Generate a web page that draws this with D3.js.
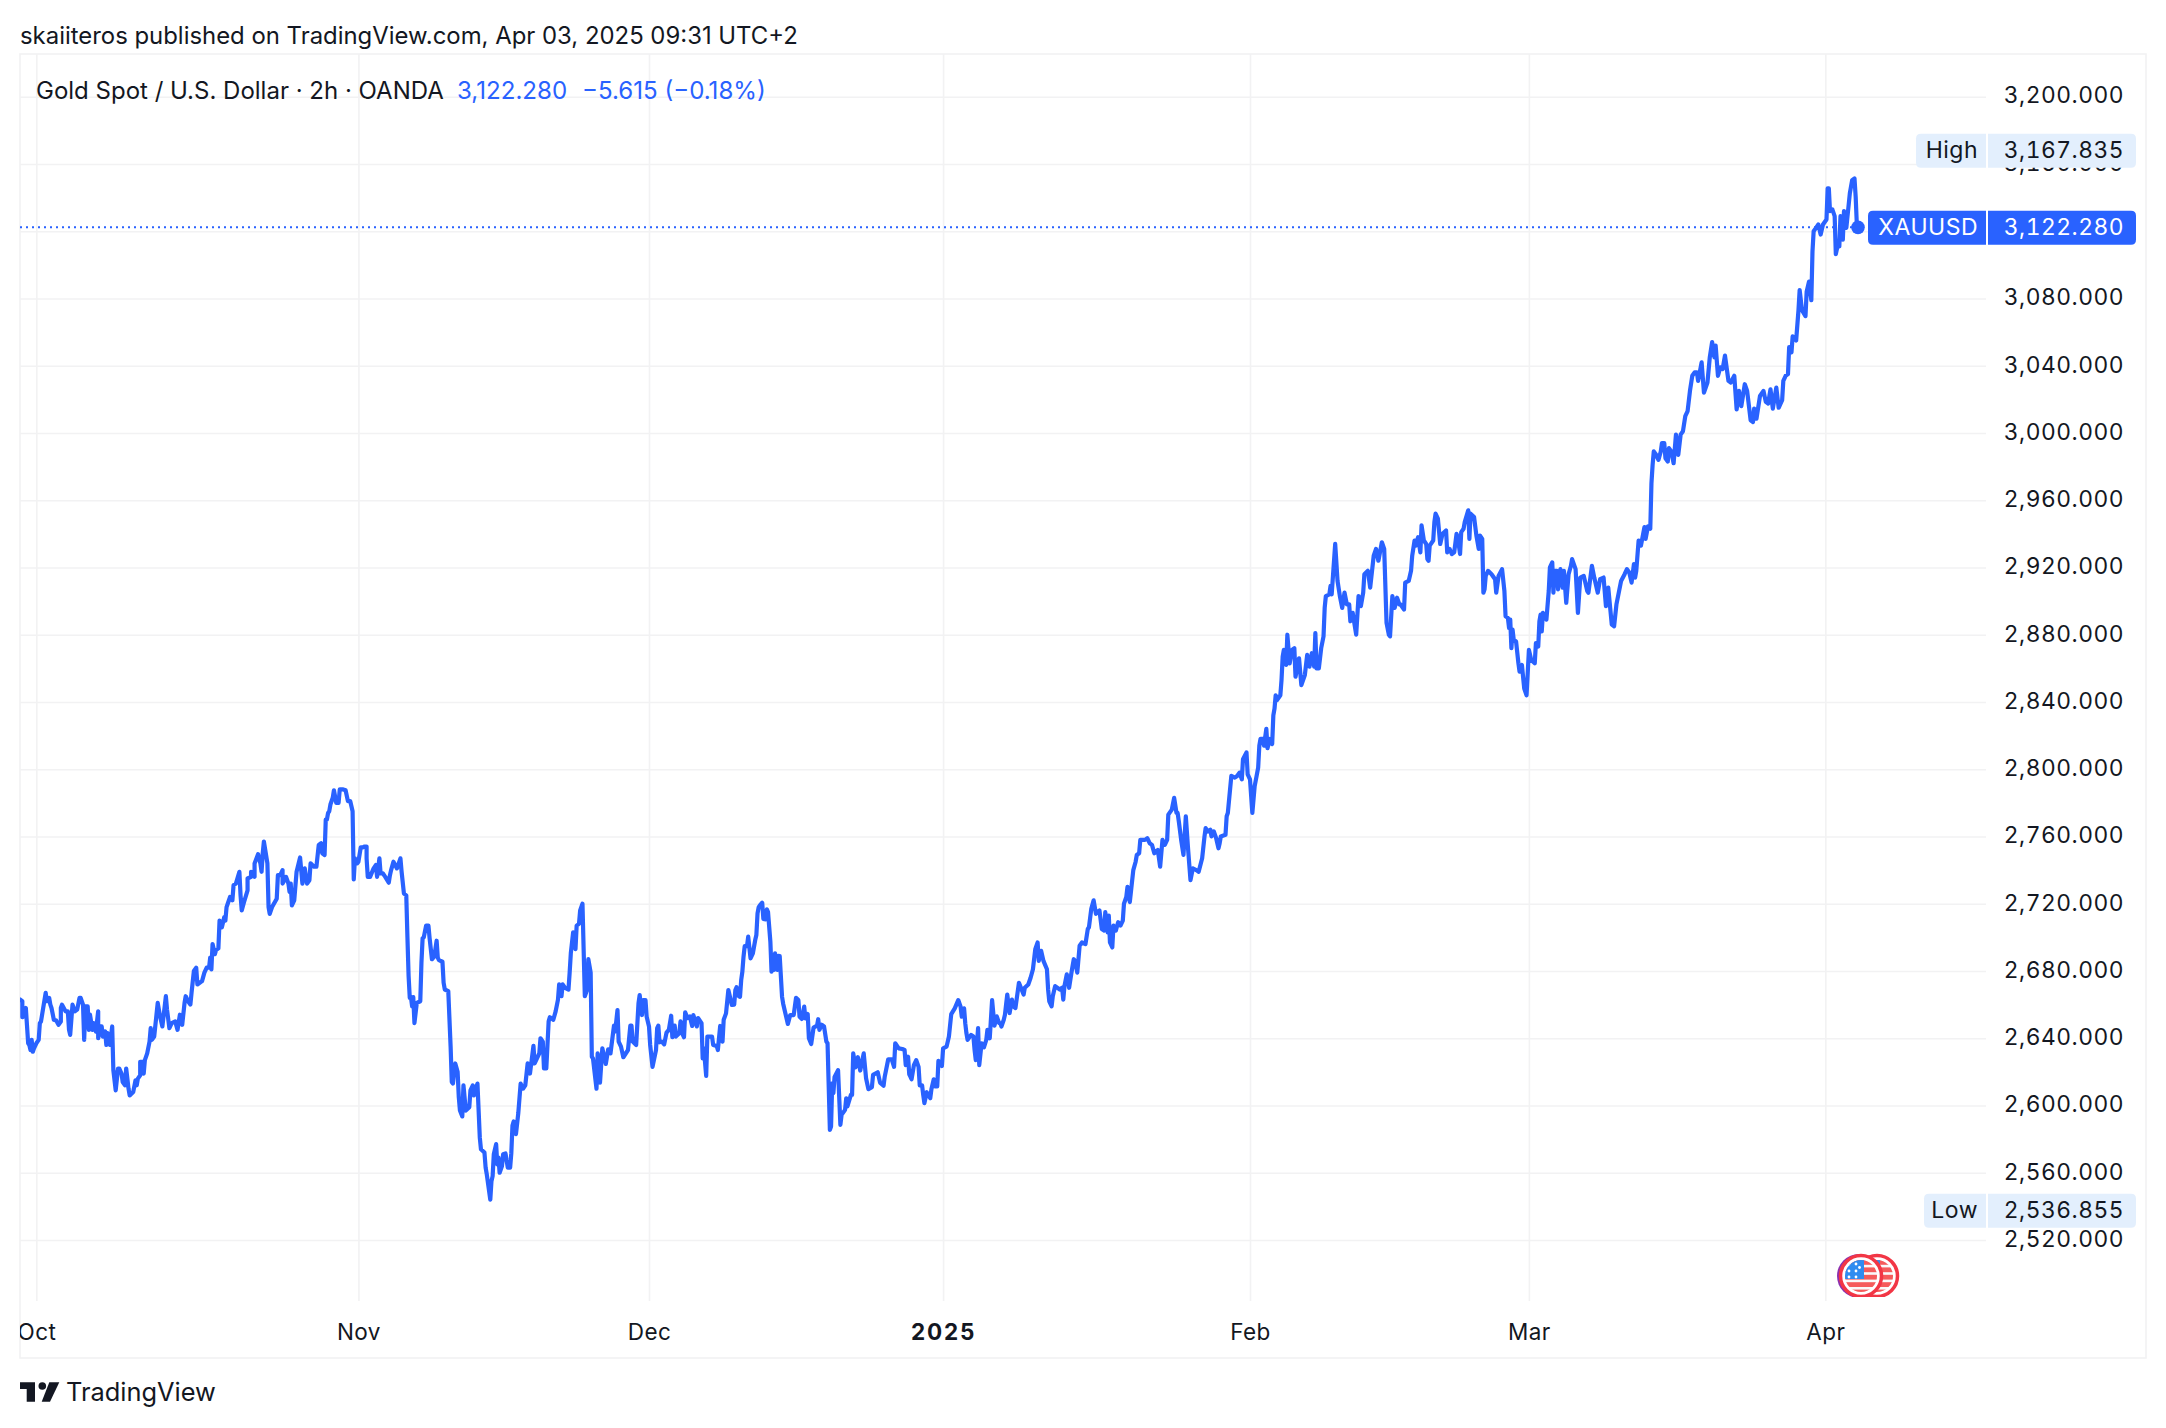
<!DOCTYPE html>
<html>
<head>
<meta charset="utf-8">
<script src="https://cdn.jsdelivr.net/npm/d3@7/dist/d3.min.js"></script>
<style>
  html, body { margin: 0; padding: 0; background: #fff; }
  svg { display: block; }
  text { font-family: Inter, "Noto Sans", sans-serif; fill: #131722; }
  .tnum { font-variant-numeric: tabular-nums; font-feature-settings: "tnum" 1; }
</style>
</head>
<body>
<script>
// XAUUSD 2h closes as [bar number, close price], one list per calendar month.
const closesOct = [[0,2663],[2,2662],[2,2652.5],[3,2653],[5,2658],[7,2637],[8,2636],[9,2633],[10,2639],[11,2632],[12,2634],[14,2637],[16,2639],[17,2649],[18,2650],[22,2667],[23,2662],[25,2664],[26,2660],[27,2658],[29,2651],[31,2650.5],[33,2648],[35,2650],[35,2658],[36,2660],[39,2656],[41,2656],[42,2645],[43,2642],[45,2660],[47,2656],[49,2657],[51,2664],[52,2664],[54,2660],[55,2639],[56,2659],[58,2659],[59,2645],[60,2654],[62,2645],[63,2649],[65,2644],[67,2656],[67,2640],[69,2647],[70,2647],[71,2641],[73,2644],[74,2636],[75,2643],[77,2636],[79,2647],[80,2621],[82,2609],[84,2622],[85,2622],[87,2619],[88,2614],[90,2612],[91,2622],[93,2610],[94,2606],[97,2608],[99,2615],[100,2612],[101,2616],[103,2618],[103,2626],[105,2626],[106,2619],[107,2627],[109,2631],[111,2638],[112,2646],[113,2639],[115,2641],[118,2661],[120,2653],[122,2647],[125,2665],[126,2657],[128,2646],[130,2649],[133,2650],[135,2645],[137,2654],[139,2648],[141,2661],[142,2665],[144,2662],[146,2660],[147,2667],[149,2680],[151,2682],[152,2672],[156,2674],[158,2679],[160,2682],[162,2682],[163,2688],[164,2681],[165,2696],[167,2690],[168,2692.5],[170,2693.5],[171,2710],[173,2706],[175,2712],[176,2710],[177,2718],[178,2720],[180,2724],[182,2722],[183,2731],[185,2732],[188,2739],[189,2725],[190,2716],[192,2721],[195,2728],[195,2735],[198,2736],[198,2739],[201,2736],[201,2744],[204,2749.5],[206,2744],[207,2739],[208,2750],[209,2757],[212,2744],[213,2718],[214,2714],[216,2718],[220,2723],[221,2737],[223,2737],[225,2740],[225,2732],[228,2736],[230,2732],[231,2727],[232,2732],[233,2719],[235,2722],[237,2739],[240,2747.5],[242,2732],[244,2741],[246,2732],[248,2734],[249,2744],[252,2742],[254,2742],[256,2755],[258,2756],[259,2750],[261,2749],[262,2770],[263,2770],[264,2774],[265,2775],[266,2779],[268,2783],[269,2787.5],[271,2780],[273,2780],[274,2788],[277,2788],[279,2787.5],[281,2781],[283,2781],[285,2775],[286,2734.5],[287,2747],[289,2744]];

const closesNov = [[290,2745],[292,2753.5],[294,2753.5],[295,2754],[297,2754],[297,2747],[298,2736],[300,2736],[303,2741],[305,2743],[306,2736],[308,2747],[309,2738],[311,2738],[313,2736],[316,2732.5],[317,2737],[318,2740],[320,2745],[323,2741],[326,2747],[327,2739],[329,2726],[331,2725],[332,2700],[333,2677],[334,2664],[335,2664.5],[336,2659],[337,2664.5],[338,2649],[340,2661],[343,2662],[344,2685],[345,2699.5],[346,2700],[348,2707],[350,2707],[351,2699.5],[353,2687],[355,2688.5],[357,2698],[358,2688],[359,2686.5],[362,2685.5],[363,2673],[364,2669],[367,2668],[369,2635],[370,2614],[371,2613],[372,2620],[373,2625],[375,2620],[376,2605],[377,2597],[379,2593.5],[380,2612],[382,2597],[385,2599],[386,2609],[388,2612],[389,2606],[392,2613],[394,2581],[395,2574],[398,2572],[399,2563],[400,2559],[403,2544],[404,2555],[405,2558],[406,2571],[408,2577],[409,2565],[410,2569],[411,2560],[413,2564],[414,2571],[416,2571.5],[418,2563],[420,2563],[421,2571.5],[422,2588],[423,2590.5],[425,2583],[427,2595.5],[429,2613],[431,2610],[433,2612],[435,2625],[437,2619],[440,2635.5],[441,2625],[445,2631],[446,2640],[448,2638],[449,2622],[451,2622],[452,2636],[453,2650],[454,2652.5],[457,2651],[459,2656],[461,2663],[462,2672],[464,2665],[465,2672],[467,2670],[470,2669],[471,2679],[472,2690.5],[474,2703],[476,2693],[477,2707],[479,2708],[480,2716],[482,2720],[484,2665],[486,2669],[487,2687],[489,2679],[490,2629],[491,2628],[494,2610],[495,2631],[497,2613.6],[499,2634],[502,2624.7],[504,2633.4],[506,2631],[509,2647.5],[510,2644],[512,2656.8],[513,2638],[515,2635],[517,2628.7],[521,2633],[523,2647.5],[524,2647.5],[525,2638],[528,2636],[530,2660.8],[531,2665.7],[533,2653.8],[534,2662.7],[536,2662.7],[537,2652.8]];

const closesDec = [[539,2647],[540,2636],[542,2623],[545,2633],[546,2646],[547,2647.5],[548,2637.6],[550,2638],[552,2636.4],[554,2643.3],[556,2645],[558,2653.4],[559,2640.6],[561,2647.5],[562,2641],[565,2643],[566,2650],[568,2642],[569,2640.6],[570,2655.4],[572,2652],[574,2653],[576,2647.3],[577,2653.8],[580,2647],[581,2652],[584,2649],[585,2628],[586,2634],[588,2617.6],[589,2641],[593,2641],[594,2636],[597,2635.4],[598,2633],[600,2647.3],[602,2638],[603,2651],[605,2654.8],[607,2668.7],[610,2659.8],[612,2660],[613,2668.7],[614,2670.3],[616,2665],[617,2664.7],[618,2674.6],[619,2679.6],[620,2688.5],[621,2694.8],[623,2694.8],[624,2700.4],[626,2687.5],[628,2690.5],[630,2698.4],[631,2701.4],[632,2714.2],[633,2718],[634,2719],[636,2720.6],[637,2711],[639,2710.7],[640,2716.6],[641,2715],[643,2697.4],[644,2679.6],[645,2686.5],[646,2680.6],[647,2690.5],[649,2680.6],[650,2689],[651,2688.9],[653,2664.7],[654,2660.4],[656,2654.4],[658,2648.5],[660,2653.8],[663,2653.8],[665,2664],[667,2662.7],[668,2652.8],[670,2651.5],[672,2658.8],[673,2651.8],[675,2654.4],[676,2640],[678,2636.6],[680,2646.3],[683,2647.5],[684,2651.3],[685,2645],[687,2648],[689,2647],[691,2638],[692,2637],[694,2585.5],[695,2587.5],[696,2613.2],[697,2607.3],[698,2617],[701,2621],[703,2588.5],[704,2594.4],[707,2597.4],[708,2604.3],[709,2599.4],[712,2606.3],[713,2606.3],[714,2631],[716,2622.7],[718,2628.7],[720,2620.8],[723,2631],[725,2616.2],[727,2609.7],[730,2610.9],[731,2618.2],[735,2619.8],[737,2613.6],[740,2611.7],[741,2617.2],[744,2627.5],[747,2627.5],[749,2623],[750,2637],[753,2634],[756,2633.6],[758,2633],[759,2624],[761,2629],[762,2618.6],[763,2617.2],[764,2615.6],[766,2624],[768,2627],[770,2623],[771,2612],[773,2612],[774,2606.3],[775,2601.4],[777,2607.9],[780,2604.3],[781,2609.7],[783,2615.6],[784,2611.3],[786,2611.3],[787,2626.5],[790,2623.5]];

const closesJan = [[791,2634],[794,2635],[796,2641],[798,2654.4],[801,2657.8],[804,2662.7],[806,2658.8],[807,2652.8],[809,2657.8],[810,2648.9],[811,2643],[812,2639],[815,2642],[817,2641],[818,2633],[819,2627],[821,2646],[822,2624],[824,2637],[826,2634.6],[828,2639],[829,2645],[831,2640],[833,2662.7],[835,2647.5],[837,2653],[839,2649],[840,2649],[841,2647],[843,2651],[844,2654],[845,2660],[846,2666],[848,2655],[850,2663],[851,2659],[853,2658],[856,2673],[860,2666],[861,2670],[864,2672],[866,2676],[868,2681],[870,2693],[872,2697],[873,2686],[875,2692],[877,2686],[880,2681],[881,2669],[882,2662],[884,2659],[885,2665],[887,2671],[891,2669],[893,2670],[894,2663],[895,2671],[897,2678],[899,2670],[901,2679],[903,2687],[904,2686],[906,2679],[908,2695],[910,2697],[913,2696],[915,2705],[916,2706],[918,2717],[920,2722],[922,2714],[925,2716],[927,2705],[929,2704],[930,2715],[932,2703],[933,2713],[934,2697],[936,2694],[937,2707],[939,2704],[941,2709],[943,2707],[945,2710],[946,2720],[948,2724],[949,2730],[951,2721],[954,2740],[956,2745],[957,2749],[959,2750],[960,2758],[963,2758],[964,2758],[966,2759],[968,2756],[970,2755],[972,2750],[975,2752],[977,2742],[979,2758],[981,2755],[983,2758],[984,2773],[987,2776],[989,2783],[991,2774],[992,2774],[993,2769],[995,2758],[997,2749],[999,2772],[1001,2752],[1003,2734],[1005,2741],[1008,2740],[1010,2739],[1013,2747],[1015,2760],[1016,2765],[1018,2763],[1020,2764],[1021,2760],[1023,2763],[1025,2759],[1027,2753],[1028,2756],[1029,2760],[1033,2761],[1034,2772],[1035,2774],[1038,2796],[1041,2795],[1043,2796],[1045,2798],[1047,2794],[1048,2806],[1051,2810],[1052,2797]];

const closesFeb = [[1054,2794],[1056,2774],[1058,2790],[1061,2801],[1062,2814],[1063,2818],[1065,2818],[1066,2814],[1068,2824],[1069,2812.5],[1071,2818],[1073,2815],[1074,2832],[1075,2836],[1076,2844],[1077,2841],[1080,2844],[1081,2853],[1082,2867],[1083,2871],[1085,2862],[1086,2880],[1088,2863],[1090,2871],[1092,2872],[1093,2855],[1096,2866],[1098,2850],[1101,2856],[1103,2868],[1105,2861],[1107,2869],[1109,2861],[1110,2881],[1111,2860],[1113,2860],[1115,2872],[1117,2879],[1118,2896],[1119,2903],[1122,2904],[1123,2909],[1124,2904],[1127,2934],[1129,2912],[1131,2903],[1133,2896],[1135,2905],[1137,2898],[1139,2898],[1140,2888],[1142,2893],[1145,2880],[1147,2903],[1149,2897],[1151,2905],[1152,2916],[1155,2918],[1157,2908],[1160,2927],[1162,2931],[1164,2924],[1167,2935],[1169,2931],[1171,2887],[1173,2880],[1174,2879],[1176,2903],[1178,2896],[1180,2902],[1182,2898],[1183,2898],[1186,2895],[1187,2911],[1190,2912],[1192,2918],[1193,2927],[1195,2936],[1196,2933],[1198,2938],[1200,2929],[1201,2945],[1203,2936],[1205,2934],[1206,2925],[1207,2924],[1208,2933],[1211,2936],[1212,2947],[1213,2952],[1215,2949],[1217,2934],[1219,2940],[1222,2942],[1223,2929],[1225,2931],[1227,2928],[1229,2929],[1231,2940],[1232,2938],[1234,2928],[1235,2941],[1237,2943],[1238,2947],[1241,2954],[1242,2937],[1243,2952],[1246,2950],[1248,2939],[1250,2931],[1251,2939],[1253,2937],[1254,2905],[1255,2907],[1256,2915],[1258,2918],[1261,2916],[1264,2913],[1265,2905],[1267,2915],[1270,2919],[1272,2906],[1273,2891],[1275,2890],[1276,2884],[1277,2889],[1278,2872],[1279,2883],[1280,2877],[1282,2876],[1284,2863],[1285,2858],[1287,2862],[1289,2848],[1291,2844]];

const closesMar = [[1293,2871],[1295,2865],[1298,2863],[1299,2875],[1301,2873],[1302,2888],[1303,2892],[1304,2882],[1305,2893],[1308,2889],[1310,2906],[1311,2920],[1313,2923],[1314,2905],[1315,2918],[1317,2918],[1318,2907],[1320,2919],[1322,2908],[1323,2918],[1325,2899],[1327,2916],[1329,2921],[1330,2925],[1333,2919],[1335,2893],[1337,2914],[1340,2915],[1343,2906],[1344,2905],[1347,2921],[1349,2914],[1352,2905],[1354,2913],[1357,2914],[1359,2897],[1361,2908],[1364,2886],[1366,2885],[1368,2898],[1372,2912],[1375,2916],[1377,2919],[1379,2917],[1381,2911],[1383,2922],[1384,2914],[1385,2918],[1387,2936],[1389,2933],[1392,2944],[1393,2937],[1395,2944.5],[1397,2943],[1398,2970],[1399,2981],[1400,2989],[1402,2987],[1404,2984],[1406,2989],[1407,2994],[1409,2994],[1410,2985],[1412,2983],[1413,2991],[1415,2989],[1417,2982],[1419,2999],[1421,2987],[1423,2999],[1425,3001],[1427,3010],[1429,3013],[1431,3025],[1433,3034],[1435,3036],[1437,3036],[1438,3031],[1441,3042],[1443,3024],[1446,3030],[1448,3045],[1450,3054],[1452,3045],[1453,3052],[1455,3034],[1457,3039],[1459,3038],[1461,3046],[1464,3031],[1466,3030],[1469,3034],[1471,3014],[1473,3025],[1475,3016],[1478,3029],[1480,3025],[1483,3007.5],[1485,3006.5],[1486,3014.5],[1488,3008.5],[1491,3022],[1494,3025],[1496,3018.5],[1498,3017.5],[1500,3026],[1502,3014.5],[1505,3027],[1507,3015],[1510,3019.5],[1511,3031],[1513,3034],[1515,3035],[1516,3051],[1518,3048],[1519,3057.5],[1522,3055],[1524,3073],[1525,3085],[1527,3073],[1530,3069.5],[1531,3084],[1533,3090],[1535,3079],[1536,3108],[1537,3120],[1539,3122],[1541,3124],[1543,3118],[1545,3124]];

const closesApr = [[1548,3127],[1549,3145.5],[1550,3145.5],[1551,3132],[1553,3133],[1555,3129],[1556,3106.4],[1558,3113],[1559,3111],[1560,3129],[1562,3115],[1563,3132],[1565,3122],[1568,3142.5],[1570,3150.4],[1572,3151.4],[1573,3140.5],[1574,3124],[1575,3122.28]];

const priceTicks = [2520,2560,2600,2640,2680,2720,2760,2800,2840,2880,2920,2960,3000,3040,3080,3120,3160,3200];
const monthBars = [14,290,539,791,1054,1293,1547];
const monthLabels = ["Oct","Nov","Dec","2025","Feb","Mar","Apr"];

const lastPrice = 3122.28;
const sessionHigh = 3167.835;
const sessionLow = 2536.855;
const symbol = "XAUUSD";

const publishedLine = "skaiiteros published on TradingView.com, Apr 03, 2025 09:31 UTC+2";
const legendName = "Gold Spot / U.S. Dollar · 2h · OANDA";
const legendPrice = "3,122.280";
const legendChange = "−5.615 (−0.18%)";

const closes = [].concat(closesOct, closesNov, closesDec, closesJan, closesFeb, closesMar, closesApr);

const W = 2166, H = 1428;
const pane = { left: 20, right: 1986, top: 54, bottom: 1301, frameRight: 2146, frameBottom: 1358 };
const BLUE = "#2962ff", GRID = "#f2f2f3", TAG = "#e3effd", INK = "#131722";

const svg = d3.select("body").append("svg").attr("width", W).attr("height", H);

const x = d3.scaleLinear().domain([0, 1575]).range([20, 1858]);
const y = d3.scaleLinear().domain([2520, 3200]).range([1240, 96.7]);
const priceFmt = d3.format(",.3f");

// Outer frame
svg.append("rect")
  .attr("x", pane.left).attr("y", pane.top)
  .attr("width", pane.frameRight - pane.left).attr("height", pane.frameBottom - pane.top)
  .attr("fill", "none").attr("stroke", GRID).attr("stroke-width", 1.6);

// Gridlines through the axis generators
const hGrid = svg.append("g").attr("transform", `translate(${pane.right},0)`)
  .call(d3.axisLeft(y).tickValues(priceTicks).tickSize(pane.right - pane.left).tickFormat(""));
hGrid.select(".domain").remove();
hGrid.selectAll("line").attr("stroke", GRID).attr("stroke-width", 1.6);

const vGrid = svg.append("g").attr("transform", `translate(0,${pane.top})`)
  .call(d3.axisBottom(x).tickValues(monthBars).tickSize(pane.bottom - pane.top).tickFormat(""));
vGrid.select(".domain").remove();
vGrid.selectAll("line").attr("stroke", GRID).attr("stroke-width", 1.6);

// Price scale labels
const yAxis = svg.append("g").attr("transform", "translate(2124,-1)")
  .call(d3.axisLeft(y).tickValues(priceTicks).tickSize(0).tickPadding(0).tickFormat(priceFmt));
yAxis.select(".domain").remove();
yAxis.selectAll("text")
  .attr("class", "tnum")
  .attr("font-family", "Inter, sans-serif").attr("font-size", 22.8).attr("fill", INK)
  .style("letter-spacing", "0.5px");

// Month labels, clipped by the frame on the left
svg.append("clipPath").attr("id", "frameClip").append("rect")
  .attr("x", pane.left).attr("y", 0).attr("width", W - pane.left).attr("height", H);
const xAxis = svg.append("g").attr("clip-path", "url(#frameClip)")
  .append("g").attr("transform", "translate(0,1324)")
  .call(d3.axisBottom(x).tickValues(monthBars).tickSize(0).tickPadding(0)
    .tickFormat((d, i) => monthLabels[i]));
xAxis.select(".domain").remove();
xAxis.selectAll("text")
  .attr("font-family", "Inter, sans-serif").attr("font-size", 22.5).attr("fill", INK)
  .attr("font-weight", (d, i) => monthLabels[i] === "2025" ? 700 : 400)
  .style("letter-spacing", (d, i) => monthLabels[i] === "2025" ? "1.8px" : "0.4px");

// Last-price dotted line
svg.append("line")
  .attr("x1", pane.left).attr("x2", x(1575))
  .attr("y1", y(lastPrice)).attr("y2", y(lastPrice))
  .attr("stroke", BLUE).attr("stroke-width", 2).attr("stroke-dasharray", "2 4");

// Close line
svg.append("path").datum(closes)
  .attr("clip-path", "url(#frameClip)")
  .attr("fill", "none").attr("stroke", BLUE).attr("stroke-width", 4.2)
  .attr("stroke-linejoin", "round").attr("stroke-linecap", "round")
  .attr("d", d3.line().x(d => x(d[0])).y(d => y(d[1])));

svg.append("circle")
  .attr("cx", x(1575)).attr("cy", y(lastPrice)).attr("r", 6.8).attr("fill", BLUE);

// Right-hand price tags
function priceTag(label, value, left, cy, fill, color) {
  const h = 34, g = svg.append("g");
  g.append("path").attr("fill", fill)
    .attr("d", `M${left + 5},${cy - h / 2}H1986V${cy + h / 2}H${left + 5}Q${left},${cy + h / 2} ${left},${cy + h / 2 - 5}V${cy - h / 2 + 5}Q${left},${cy - h / 2} ${left + 5},${cy - h / 2}Z`);
  g.append("path").attr("fill", fill)
    .attr("d", `M1988,${cy - h / 2}H2131Q2136,${cy - h / 2} 2136,${cy - h / 2 + 5}V${cy + h / 2 - 5}Q2136,${cy + h / 2} 2131,${cy + h / 2}H1988Z`);
  g.append("text").attr("x", 1978).attr("y", cy).attr("dy", "0.3em").attr("text-anchor", "end")
    .attr("font-size", 23).style("fill", color).style("letter-spacing", "0.5px").text(label);
  g.append("text").attr("class", "tnum").attr("x", 2124).attr("y", cy).attr("dy", "0.3em").attr("text-anchor", "end")
    .attr("font-size", 22.8).style("fill", color).style("letter-spacing", "0.5px").text(priceFmt(value));
}
priceTag("High", sessionHigh, 1916, 150.8, TAG, INK);
priceTag(symbol, lastPrice, 1868, 227.8, BLUE, "#ffffff");
priceTag("Low", sessionLow, 1924, 1210.8, TAG, INK);

// Economic-event badges: two overlapping US flag coins under the pane
svg.append("clipPath").attr("id", "coinRow").append("rect")
  .attr("x", 1820).attr("y", 1250).attr("width", 100).attr("height", 47);
function flagCoin(cx, cy) {
  const g = svg.append("g").attr("clip-path", "url(#coinRow)");
  const id = "coinFace" + cx;
  svg.append("clipPath").attr("id", id).append("circle").attr("cx", cx).attr("cy", cy).attr("r", 16);
  g.append("circle").attr("cx", cx).attr("cy", cy).attr("r", 20.5)
    .attr("fill", "#fff").attr("stroke", "#f23645").attr("stroke-width", 3.5);
  const face = g.append("g").attr("clip-path", `url(#${id})`);
  face.append("rect").attr("x", cx - 16).attr("y", cy - 16).attr("width", 32).attr("height", 32).attr("fill", "#f9f9f9");
  [-16, -8.6, -1.2, 6.2, 13.6].forEach(d => {
    face.append("rect").attr("x", cx - 16).attr("y", cy + d).attr("width", 32).attr("height", 4.8).attr("fill", "#f55b5b");
  });
  face.append("rect").attr("x", cx - 16).attr("y", cy - 16).attr("width", 19).attr("height", 19).attr("fill", "#2f8cf0");
  [[-12, -12], [-5, -12], [-12, -5], [-5, -5], [-12, 1], [-5, 1], [-1.5, -8.5]].forEach(s => {
    face.append("circle").attr("cx", cx + s[0]).attr("cy", cy + s[1]).attr("r", 1.4).attr("fill", "#fff");
  });
}
svg.append("circle").attr("cx", 1859).attr("cy", 1276).attr("r", 22).attr("fill", "#8a2fb0")
  .attr("clip-path", "url(#coinRow)");
flagCoin(1877, 1276);
flagCoin(1861, 1276);

// Header and legend
svg.append("text").attr("x", 20).attr("y", 44).attr("font-size", 23.9).text(publishedLine);
svg.append("text").attr("x", 36).attr("y", 98.5).attr("font-size", 24).text(legendName);
svg.append("text").attr("x", 457).attr("y", 98.5).attr("font-size", 24.1).style("fill", BLUE).text(legendPrice);
svg.append("text").attr("x", 582).attr("y", 98.5).attr("font-size", 24.1).style("fill", BLUE).text(legendChange);

// Footer wordmark
const mark = svg.append("g").attr("fill", "#131722");
mark.append("path").attr("d", "M20,1382.3H35V1401.7H26.7V1389H20Z");
mark.append("circle").attr("cx", 42.3).attr("cy", 1386).attr("r", 3.8);
mark.append("path").attr("d", "M49.3,1382.3H59.3L50,1401.7H41.7Z");
svg.append("text").attr("x", 66).attr("y", 1401).attr("font-size", 25.4).text("TradingView");
</script>
</body>
</html>
